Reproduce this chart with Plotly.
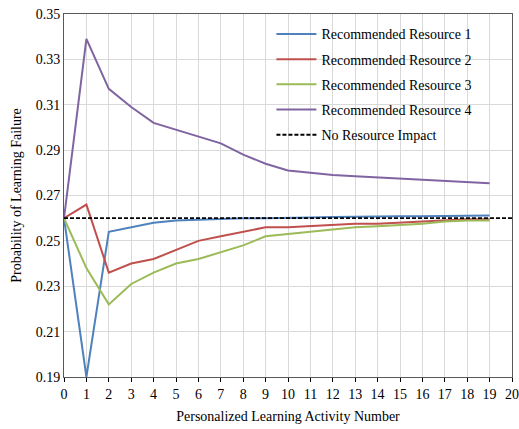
import plotly.graph_objects as go

x_vals = list(range(20))
r1 = [0.260, 0.190, 0.254, 0.256, 0.258, 0.259, 0.2593, 0.2598, 0.260, 0.260, 0.260,
      0.2603, 0.2605, 0.2605, 0.2606, 0.2608, 0.2609, 0.261, 0.261, 0.2612]
r2 = [0.260, 0.266, 0.236, 0.240, 0.242, 0.246, 0.250, 0.252, 0.254, 0.256, 0.256,
      0.2565, 0.257, 0.2575, 0.2575, 0.258, 0.2585, 0.259, 0.2595, 0.2595]
r3 = [0.260, 0.238, 0.222, 0.231, 0.236, 0.240, 0.242, 0.245, 0.248, 0.252, 0.253,
      0.254, 0.255, 0.256, 0.2565, 0.257, 0.2575, 0.2585, 0.259, 0.259]
r4 = [0.260, 0.339, 0.317, 0.309, 0.302, 0.299, 0.296, 0.293, 0.288, 0.284, 0.281,
      0.280, 0.279, 0.2785, 0.278, 0.2773, 0.277, 0.2765, 0.276, 0.2754]
baseline_x = [0, 20]
baseline_y = [0.26, 0.26]

names = ["Recommended Resource 1", "Recommended Resource 2",
         "Recommended Resource 3", "Recommended Resource 4"]
colors = ["#4F81BD", "#C0504D", "#9BBB59", "#8064A2"]

fig = go.Figure()
for i, (ys, nm, c) in enumerate(zip([r1, r2, r3, r4], names, colors)):
    fig.add_trace(go.Scatter(x=x_vals, y=ys, mode="lines", name=nm,
                             legendgroup=f"g{i}",
                             line=dict(color=c, width=2)))
fig.add_trace(go.Scatter(x=baseline_x, y=baseline_y, mode="lines",
                         name="No Resource Impact", legendgroup="g5",
                         line=dict(color="black", width=1.8, dash="4px,2px")))

font = "Liberation Serif"

fig.update_layout(
    template="none",
    width=519, height=429,
    margin=dict(l=64, r=7, t=14, b=52),
    paper_bgcolor="white", plot_bgcolor="white",
    font=dict(family=font, size=14, color="black"),
    legend=dict(x=0.463, y=0.988, xanchor="left", yanchor="top",
                bgcolor="rgba(0,0,0,0)", borderwidth=0,
                font=dict(family=font, size=14),
                tracegroupgap=4, traceorder="grouped", itemwidth=40),
    xaxis=dict(range=[0, 20], tickmode="linear", dtick=1, tick0=0,
               showgrid=True, gridcolor="#D9D9D9", gridwidth=1,
               showline=True, linecolor="#595959", linewidth=1, mirror=True,
               ticks="outside", ticklen=4, tickcolor="black",
               zeroline=False, tickfont=dict(family=font, size=14),
               title=dict(text="Personalized Learning Activity Number",
                          font=dict(family=font, size=14), standoff=10)),
    yaxis=dict(range=[0.19, 0.35], tickmode="linear", dtick=0.02, tick0=0.19,
               tickformat=".2f", tickfont=dict(family=font, size=14),
               showgrid=True, gridcolor="#D9D9D9", gridwidth=1,
               showline=True, linecolor="#595959", linewidth=1, mirror=True,
               ticks="", zeroline=False,
               title=dict(text="Probability of Learning Failure",
                          font=dict(family=font, size=14), standoff=10)),
)

fig.write_html("out.html")
